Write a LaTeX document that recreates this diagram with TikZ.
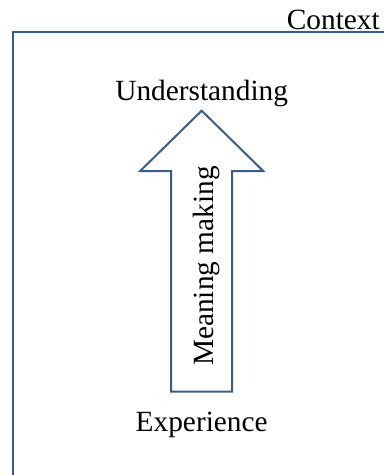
\documentclass[tikz,border=0pt]{standalone}
\usepackage{fontspec}
\setmainfont{Liberation Serif}
\usepackage{tikz}
\usetikzlibrary{positioning}

\definecolor{outline}{HTML}{385D8A}
\tikzset{
  frameline/.style={draw=outline, line width=1.5pt},
  label/.style={font=\fontsize{22}{26}\selectfont, inner sep=0pt},
}

\begin{document}
\begin{tikzpicture}[x=0.75pt, y=-0.75pt]
    \useasboundingbox (0,0) rectangle (384,475);

    % context frame, runs off the page at right and bottom
    \coordinate (fbl) at (13,480);
    \coordinate (ftl) at (13,32);
    \coordinate (ftr) at (390,32);
    \draw[frameline] (fbl) -- (ftl) -- (ftr);
    \node[label, anchor=base east] (context) at (380,29) {Context};

    % the big arrow
    \coordinate (tip) at (201.7,110.7);
    \draw[frameline, line join=miter] (171.2,391.7) -- (171.2,171) -- (140.2,171) -- (tip)
        -- (263.2,171) -- (232.2,171) -- (232.2,391.7) -- cycle;
    \node[label, rotate=90] (meaning) at (206,266) {Meaning making};

    \node[label, anchor=base] (understanding) at (201.7,100) {Understanding};
    \node[label, anchor=base] (experience) at (201.7,431.7) {Experience};
\end{tikzpicture}
\end{document}
